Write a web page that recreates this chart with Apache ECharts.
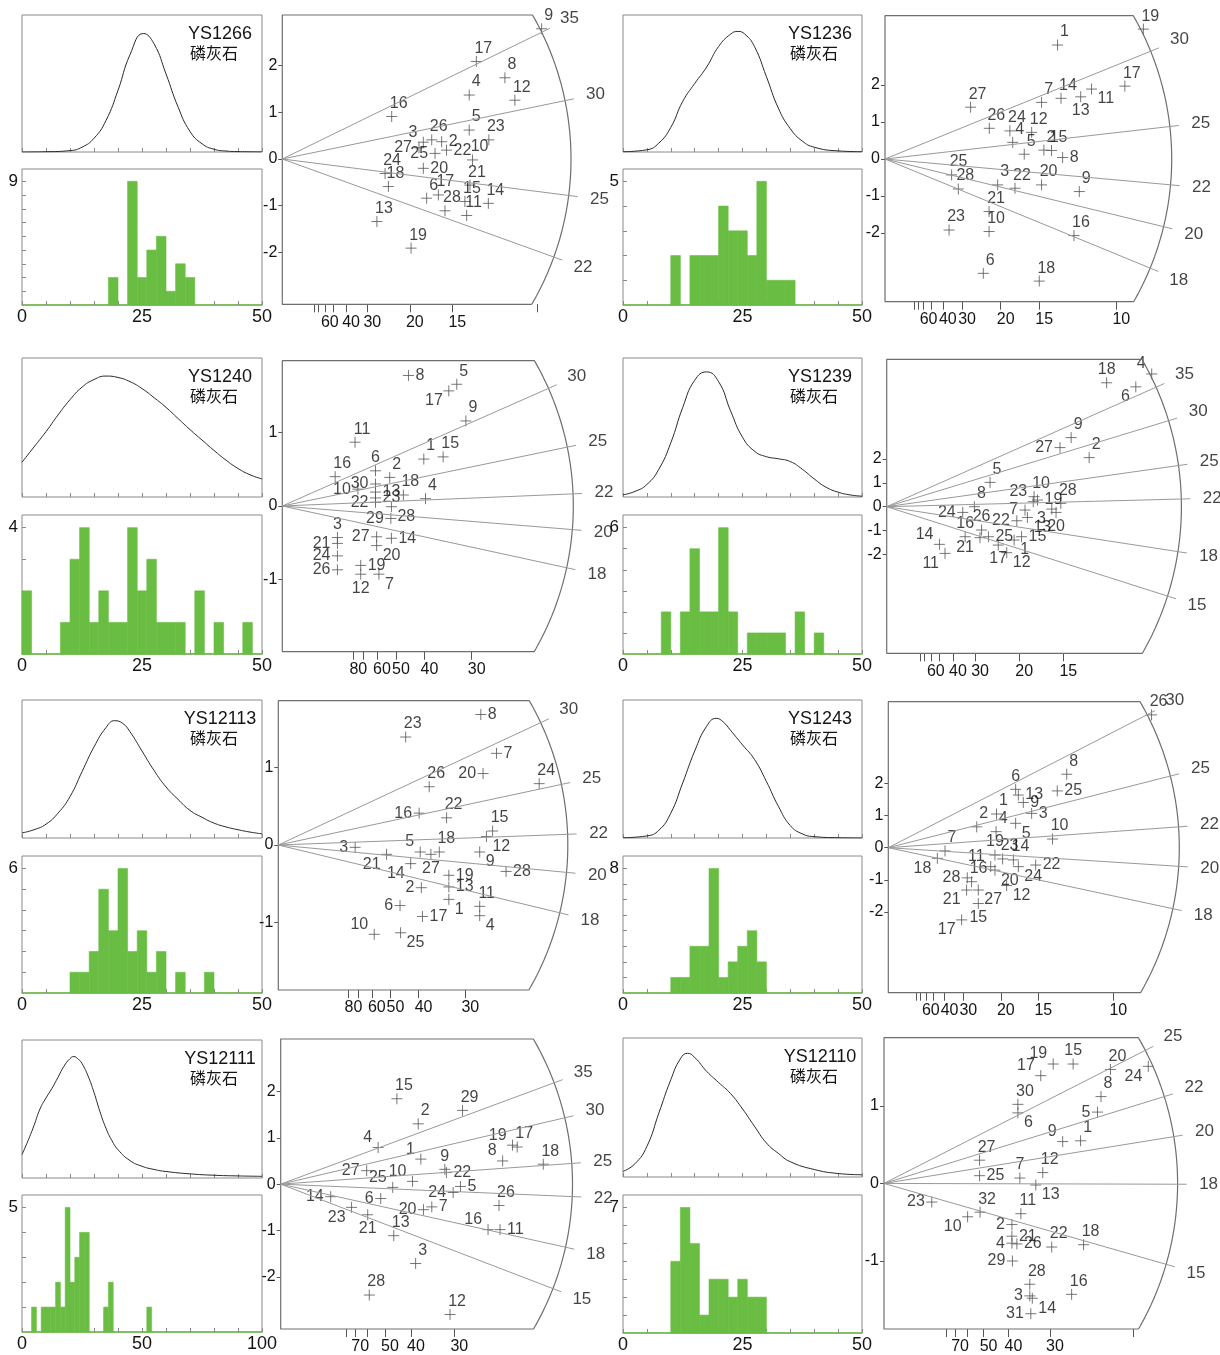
<!DOCTYPE html>
<html><head><meta charset="utf-8">
<script src="https://cdn.jsdelivr.net/npm/echarts@6/dist/echarts.min.js"></script>
<style>html,body{margin:0;padding:0;background:#fff}#c{width:1220px;height:1355px}</style>
</head><body><div id="c"></div>
<script>
// ---------------- DATA ----------------
const titles = ['YS1266','YS1236','YS1240','YS1239','YS12113','YS1243','YS12111','YS12110'];
const mineral = '磷灰石';

// KDE curves: [age (Ma), relative density]
const kde1 = [[0,0],[5,0.002],[10,0.01],[12.5,0.035],[15,0.1],[17.5,0.23],[20,0.45],[22.5,0.71],[25.3,0.865],[27.5,0.79],[30,0.57],[32.5,0.33],[35,0.15],[37.5,0.06],[40,0.02],[42.5,0.007],[45,0.003],[50,0.001]];
const kde2 = [[0,0.002],[5,0.016],[7.5,0.065],[10,0.18],[12.5,0.37],[15,0.5],[17.5,0.62],[20,0.77],[22.5,0.86],[24,0.88],[25.5,0.86],[27.5,0.77],[30,0.55],[32.5,0.32],[35,0.17],[37.5,0.08],[40,0.035],[45,0.008],[50,0.002]];
const kde3 = [[0,0.25],[2.5,0.36],[5,0.47],[7.5,0.59],[10,0.7],[12.5,0.79],[15,0.845],[17.5,0.87],[20,0.86],[22.5,0.83],[25,0.78],[27.5,0.715],[30,0.645],[32.5,0.565],[35,0.485],[37.5,0.41],[40,0.335],[42.5,0.265],[45,0.205],[47.5,0.16],[50,0.13]];
const kde4 = [[0,0.016],[2.5,0.04],[5,0.09],[7.5,0.2],[10,0.39],[12.5,0.645],[15,0.84],[17.5,0.9],[20,0.83],[22.5,0.62],[25,0.43],[27.5,0.33],[30,0.29],[32.5,0.275],[35,0.255],[37.5,0.2],[40,0.13],[42.5,0.07],[45,0.035],[47.5,0.015],[50,0.006]];
const kde5 = [[0,0.037],[2.5,0.06],[5,0.1],[7.5,0.18],[10,0.3],[12.5,0.48],[15,0.66],[17.5,0.8],[19.3,0.85],[21,0.83],[22.5,0.77],[25,0.63],[27.5,0.49],[30,0.37],[32.5,0.28],[35,0.2],[37.5,0.15],[40,0.108],[42.5,0.08],[45,0.06],[47.5,0.043],[50,0.03]];
const kde6 = [[0,0.002],[5,0.015],[7.5,0.056],[10,0.18],[12.5,0.4],[15,0.63],[17.5,0.81],[19.5,0.867],[21,0.84],[22.5,0.78],[25,0.675],[27.5,0.57],[30,0.41],[32.5,0.23],[35,0.09],[37.5,0.03],[40,0.01],[45,0.002],[50,0]];
const kde7 = [[0,0.17],[2.5,0.27],[5,0.38],[7.5,0.5],[10,0.58],[12.5,0.65],[15,0.73],[17.5,0.81],[20,0.865],[21.6,0.88],[23.5,0.86],[25,0.83],[27.5,0.74],[30,0.62],[32.5,0.48],[35,0.36],[37.5,0.27],[40,0.205],[45,0.126],[50,0.085],[55,0.062],[60,0.047],[70,0.03],[80,0.02],[90,0.015],[100,0.012]];
const kde8 = [[0,0.04],[2.5,0.095],[5,0.22],[7.5,0.46],[10,0.7],[12,0.85],[13.5,0.89],[15,0.86],[17.5,0.76],[20,0.68],[22.5,0.6],[25,0.49],[27.5,0.365],[30,0.245],[32.5,0.17],[35,0.11],[40,0.054],[45,0.025],[50,0.016]];

// Histogram counts, bins of 2 Ma starting at 0
const histBin = 2;
const hist1 = [0,0,0,0,0,0,0,0,0,2,0,9,2,4,5,1,3,2];
const hist2 = [0,0,0,0,0,2,0,2,2,2,4,3,3,2,5,1,1,1];
const hist3 = [2,0,0,0,1,3,4,1,2,1,1,4,2,3,1,1,1,0,2,0,1,0,0,1];
const hist4 = [0,0,0,0,2,0,2,5,2,2,6,2,0,1,1,1,1,0,2,0,1];
const hist5 = [0,0,0,0,0,1,1,2,5,3,6,2,3,1,2,0,1,0,0,1];
const hist6 = [0,0,0,0,0,1,1,3,3,8,1,2,3,4,2];
const hist7 = [0,0,1,0,1,1,1,2,1,5,2,3,4,4,0,0,0,1,2,0,0,0,0,0,0,0,1];
const hist8 = [0,0,0,0,0,4,7,5,1,3,3,2,3,2,2];
const histRange = [50,50,50,50,50,50,100,50];

// Radial plot points: [precision (1/sigma), standardised estimate, grain no.]
const pts1 = [[10.17,2.79,'9'],[7.61,2.09,'17'],[8.73,1.74,'8'],[7.33,1.37,'4'],[9.12,1.26,'12'],[4.29,0.91,'16'],[7.33,0.62,'5'],[8.10,0.41,'23'],[5.86,0.41,'26'],[5.53,0.36,'3'],[6.25,0.37,'2'],[5.36,0.24,'27'],[5.99,0.12,'25'],[6.44,0.19,'22'],[5.53,-0.20,'20'],[7.46,-0.02,'10'],[4.03,-0.31,'24'],[4.16,-0.59,'18'],[7.36,-0.56,'21'],[5.66,-0.84,'6'],[6.12,-0.77,'17'],[6.38,-1.11,'28'],[7.16,-0.91,'15'],[7.23,-1.21,'11'],[8.08,-0.95,'14'],[3.71,-1.34,'13'],[5.05,-1.91,'19']];
const pts2 = [[11.17,3.51,'19'],[7.46,3.08,'1'],[10.37,1.97,'17'],[8.93,1.89,'11'],[7.61,1.64,'14'],[8.46,1.68,'13'],[6.77,1.53,'7'],[3.70,1.40,'27'],[4.51,0.83,'26'],[5.40,0.76,'24'],[5.52,0.45,'4'],[6.34,0.72,'12'],[6.02,0.13,'5'],[6.87,0.24,'2'],[7.20,0.23,'15'],[7.68,0.04,'8'],[2.88,-0.43,'25'],[3.17,-0.81,'28'],[4.87,-0.70,'3'],[5.62,-0.79,'22'],[6.77,-0.70,'20'],[8.40,-0.88,'9'],[4.50,-1.42,'21'],[4.50,-1.96,'10'],[2.77,-1.92,'23'],[8.17,-2.07,'16'],[4.25,-3.09,'6'],[6.67,-3.30,'18']];
const pts3 = [[2.22,1.78,'8'],[3.07,1.66,'5'],[2.93,1.57,'17'],[3.23,1.16,'9'],[1.28,0.87,'11'],[2.49,0.64,'1'],[2.83,0.67,'15'],[0.93,0.40,'16'],[1.64,0.48,'6'],[1.89,0.39,'2'],[1.64,0.30,'30'],[1.33,0.23,'10'],[1.64,0.19,'13'],[2.13,0.15,'18'],[2.52,0.10,'4'],[1.64,0.11,'23'],[1.64,0.05,'22'],[1.92,-0.01,'28'],[1.91,-0.17,'29'],[0.97,-0.43,'3'],[0.97,-0.51,'21'],[0.97,-0.68,'24'],[0.97,-0.87,'26'],[1.66,-0.42,'27'],[1.92,-0.44,'14'],[1.66,-0.54,'20'],[1.38,-0.81,'19'],[1.38,-0.93,'12'],[1.70,-0.93,'7']];
const pts4 = [[10.0,5.57,'4'],[8.30,5.20,'18'],[9.40,5.03,'6'],[6.96,2.90,'9'],[6.54,2.48,'27'],[7.64,2.06,'2'],[3.90,1.02,'5'],[3.31,0.0,'8'],[2.87,-0.24,'24'],[5.56,0.42,'10'],[5.53,0.21,'23'],[5.69,0.28,'19'],[6.57,0.14,'28'],[5.22,-0.14,'7'],[6.23,-0.10,'3'],[6.39,-0.24,'20'],[5.31,-0.45,'13'],[4.91,-0.59,'22'],[3.58,-0.98,'26'],[2.96,-1.26,'16'],[3.52,-1.30,'21'],[3.84,-1.26,'25'],[5.09,-1.26,'15'],[4.81,-1.40,'1'],[4.21,-1.61,'17'],[4.53,-1.93,'12'],[1.99,-1.58,'14'],[2.20,-1.96,'11']];
const pts5 = [[3.61,1.68,'8'],[2.27,1.39,'23'],[3.89,1.18,'7'],[3.65,0.92,'20'],[4.65,0.79,'24'],[2.69,0.75,'26'],[2.51,0.41,'16'],[3.00,0.35,'22'],[3.82,0.18,'15'],[3.71,0.11,'12'],[1.37,-0.03,'3'],[2.53,-0.09,'5'],[2.87,-0.09,'18'],[2.72,-0.12,'27'],[1.93,-0.12,'21'],[3.59,-0.09,'9'],[2.36,-0.24,'14'],[4.06,-0.34,'28'],[3.04,-0.39,'19'],[3.04,-0.54,'13'],[2.55,-0.55,'2'],[3.04,-0.70,'1'],[3.59,-0.79,'11'],[3.59,-0.91,'4'],[2.17,-0.78,'6'],[2.57,-0.92,'17'],[1.71,-1.15,'10'],[2.18,-1.13,'25']];
const pts6 = [[11.70,4.14,'26'],[7.93,2.29,'8'],[7.51,1.77,'25'],[5.66,1.82,'6'],[5.78,1.64,'13'],[6.00,1.41,'9'],[4.81,1.05,'1'],[6.37,1.07,'3'],[3.93,0.65,'2'],[4.79,0.50,'4'],[5.66,0.76,'5'],[7.30,0.27,'10'],[2.52,-0.10,'7'],[2.18,-0.33,'18'],[4.74,-0.23,'19'],[5.08,-0.35,'23'],[4.55,-0.59,'11'],[5.56,-0.38,'14'],[6.55,-0.54,'22'],[5.78,-0.59,'24'],[4.74,-0.70,'20'],[3.51,-0.94,'28'],[3.70,-1.06,'16'],[5.26,-1.18,'12'],[3.48,-1.32,'21'],[4.00,-1.32,'27'],[4.00,-1.74,'15'],[3.26,-2.25,'17']];
const pts7 = [[2.23,1.84,'15'],[3.49,1.59,'29'],[2.64,1.30,'2'],[1.87,0.79,'4'],[4.45,0.84,'19'],[4.54,0.80,'17'],[2.69,0.54,'1'],[4.26,0.50,'8'],[5.04,0.43,'18'],[3.15,0.32,'9'],[3.18,0.25,'22'],[1.65,0.29,'27'],[2.53,0.06,'10'],[2.15,-0.07,'25'],[3.45,-0.05,'5'],[3.31,-0.18,'24'],[0.96,-0.27,'14'],[1.92,-0.31,'6'],[4.19,-0.46,'26'],[2.74,-0.55,'20'],[2.90,-0.49,'7'],[1.36,-0.50,'23'],[1.67,-0.66,'21'],[3.98,-0.98,'16'],[4.21,-0.98,'11'],[2.17,-1.11,'13'],[2.59,-1.71,'3'],[1.70,-2.39,'28'],[3.25,-2.81,'12']];
const pts8 = [[3.40,1.54,'19'],[3.80,1.54,'15'],[3.15,1.39,'17'],[4.55,1.47,'20'],[5.31,1.51,'24'],[2.69,1.02,'30'],[2.69,0.91,'6'],[4.36,1.12,'8'],[4.29,0.92,'5'],[3.59,0.54,'9'],[3.95,0.55,'1'],[1.92,0.30,'27'],[1.92,0.10,'25'],[2.73,0.07,'7'],[3.19,0.14,'12'],[3.05,-0.02,'13'],[0.96,-0.24,'23'],[1.93,-0.37,'32'],[1.68,-0.43,'10'],[2.75,-0.39,'11'],[2.57,-0.53,'2'],[2.57,-0.68,'21'],[2.57,-0.77,'4'],[2.67,-0.78,'26'],[3.37,-0.82,'22'],[4.01,-0.79,'18'],[2.58,-1.00,'29'],[2.93,-1.30,'28'],[2.93,-1.45,'3'],[2.98,-1.48,'14'],[3.77,-1.43,'16'],[2.95,-1.68,'31']];

// Radial-scale age ticks (Ma) and central age (Ma)
const ages1 = [35,30,25,22], t01 = 26.8;
const ages2 = [30,25,22,20,18], t02 = 23.28;
const ages3 = [30,25,22,20,18], t03 = 21.3;
const ages4 = [35,30,25,22,18,15], t04 = 21.37;
const ages5 = [30,25,22,20,18], t05 = 21.42;
const ages6 = [30,25,22,20,18], t06 = 20.92;
const ages7 = [35,30,25,22,18,15], t07 = 23.08;
const ages8 = [25,22,20,18,15], t08 = 18.03;

// Relative error (%) ticks and labels on the precision axis
const sigT1 = [80,70,60,50,40,30,20,15,10], sigL1 = [60,40,30,20,15];
const sigT2 = [80,70,60,50,40,30,20,15,10], sigL2 = [60,40,30,20,15,10];
const sigT3 = [80,70,60,50,40,30], sigL3 = [80,60,50,40,30];
const sigT4 = [80,70,60,50,40,30,20,15], sigL4 = [60,40,30,20,15];
const sigT5 = [80,70,60,50,40,30], sigL5 = [80,60,50,40,30];
const sigT6 = [80,70,60,50,40,30,20,15,10], sigL6 = [60,40,30,20,15,10];
const sigT7 = [80,70,60,50,40,30], sigL7 = [70,50,40,30];
const sigT8 = [80,70,60,50,40,30,20], sigL8 = [70,50,40,30];

// standardised-estimate tick labels
const yl1 = [-2,-1,0,1,2], yl2 = [-2,-1,0,1,2], yl3 = [-1,0,1], yl4 = [-2,-1,0,1,2];
const yl5 = [-1,0,1], yl6 = [-2,-1,0,1,2], yl7 = [-2,-1,0,1,2], yl8 = [-1,0,1];

// ---------------- STYLE / LAYOUT ----------------
// label side for grain numbers (default: upper right)
const pos1 = {'27':'l','25':'l','20':'r','22':'r','2':'r','3':'ul'};
const pos2 = {'8':'r','11':'dr','13':'d'};
const pos3 = {'8':'r','17':'dl','6':'u','30':'l','10':'l','13':'r','23':'r','22':'l','28':'dr','29':'l','3':'u','21':'l','24':'l','26':'l','27':'l','14':'r','20':'dr','19':'r','12':'d','7':'dr'};
const pos4 = {'4':'ul','18':'u','6':'dl','27':'l','24':'l','23':'ul','19':'r','7':'l','3':'dl','20':'d','13':'dr','22':'l','26':'u','16':'u','21':'dl','25':'r','15':'r','1':'dr','17':'d','12':'dr','14':'ul','11':'dl'};
const pos5 = {'8':'r','7':'r','20':'l','16':'l','12':'dr','3':'l','5':'ul','27':'d','21':'dl','9':'dr','14':'dl','28':'r','19':'r','13':'r','2':'l','1':'dr','4':'dr','6':'l','17':'r','10':'ul','25':'dr'};
const pos6 = {'25':'r','6':'u','13':'r','9':'r','3':'r','5':'dr','18':'dl','19':'u','11':'ul','22':'r','24':'dr','20':'dr','28':'l','12':'dr','21':'dl','27':'dr','15':'d','17':'dl'};
const pos7 = {'4':'ul','19':'ul','1':'ul','8':'ul','9':'u','22':'r','27':'l','10':'ul','25':'ul','5':'r','24':'l','14':'l','6':'l','20':'l','7':'r','23':'dl','21':'d','16':'ul','11':'r'};
const pos8 = {'19':'ul','15':'u','17':'ul','24':'dl','6':'dr','5':'l','9':'ul','25':'r','7':'u','13':'dr','23':'l','10':'dl','2':'l','21':'r','4':'l','26':'r','29':'l','3':'l','14':'dr','31':'l'};

const LAY = [
 {bx:22, bw:240, kt:15, kh:137, ht:169, hh:136, ox:282.3, oy:159, xs:25.5, ys:46.67, top:15, bot:304.3, r:288.7},
 {bx:623, bw:239, kt:15, kh:137, ht:169, hh:136, ox:885, oy:159, xs:23.13, ys:37, top:15.7, bot:301.7, r:286.7},
 {bx:22, bw:240, kt:358, kh:139, ht:515, hh:139, ox:282.3, oy:506, xs:56.83, ys:73.33, top:360.7, bot:651.7, r:291},
 {bx:623, bw:239, kt:358, kh:139, ht:515, hh:139, ox:886.7, oy:506.7, xs:26.5, ys:23.83, top:359.3, bot:653.3, r:294.7},
 {bx:22, bw:240, kt:700, kh:138, ht:856, hh:137, ox:278.3, oy:845, xs:56.1, ys:77.67, top:700.7, bot:990, r:289.5},
 {bx:623, bw:239, kt:700, kh:138, ht:856, hh:137, ox:888.3, oy:847.7, xs:22.5, ys:32.08, top:701.7, bot:992.7, r:291},
 {bx:22, bw:240, kt:1040, kh:138, ht:1195, hh:137, ox:280.7, oy:1185, xs:52.1, ys:46.67, top:1039, bot:1330.7, r:291.8},
 {bx:623, bw:239, kt:1038, kh:139, ht:1195, hh:138, ox:884, oy:1184.3, xs:49.77, ys:78, top:1037.7, bot:1330.7, r:293.6}
];

const P = [
 {kde:kde1, hist:hist1, pts:pts1, ages:ages1, t0:t01, sigT:sigT1, sigL:sigL1, yl:yl1, pos:pos1},
 {kde:kde2, hist:hist2, pts:pts2, ages:ages2, t0:t02, sigT:sigT2, sigL:sigL2, yl:yl2, pos:pos2},
 {kde:kde3, hist:hist3, pts:pts3, ages:ages3, t0:t03, sigT:sigT3, sigL:sigL3, yl:yl3, pos:pos3},
 {kde:kde4, hist:hist4, pts:pts4, ages:ages4, t0:t04, sigT:sigT4, sigL:sigL4, yl:yl4, pos:pos4},
 {kde:kde5, hist:hist5, pts:pts5, ages:ages5, t0:t05, sigT:sigT5, sigL:sigL5, yl:yl5, pos:pos5},
 {kde:kde6, hist:hist6, pts:pts6, ages:ages6, t0:t06, sigT:sigT6, sigL:sigL6, yl:yl6, pos:pos6},
 {kde:kde7, hist:hist7, pts:pts7, ages:ages7, t0:t07, sigT:sigT7, sigL:sigL7, yl:yl7, pos:pos7},
 {kde:kde8, hist:hist8, pts:pts8, ages:ages8, t0:t08, sigT:sigT8, sigL:sigL8, yl:yl8, pos:pos8}
];

const TXT = '#141414', FRAME = '#8a8a8a', GREEN = '#6abd43';
const FONT = '"Liberation Sans", Arial, sans-serif';

function labelCfg(p){
  switch(p){
    case 'r': return {position:'right', distance:1};
    case 'l': return {position:'left', distance:1};
    case 'u': return {position:'inside', offset:[0,-13]};
    case 'd': return {position:'inside', offset:[0,14]};
    case 'dr': return {position:'right', distance:0, offset:[0,10]};
    case 'dl': return {position:'left', distance:0, offset:[0,10]};
    case 'ul': return {position:'left', distance:0, offset:[0,-10]};
    default: return {position:'inside', offset:[7,-13]};
  }
}

const grids=[], xAxes=[], yAxes=[], series=[], graphic=[];
function range(a,b,s){const o=[];for(let v=a;v<=b+1e-9;v+=s)o.push(v);return o;}

P.forEach((p,i)=>{
  const l = LAY[i];
  const xr = histRange[i], tstep = xr===100?10:5;
  // ---- KDE ----
  let g = grids.length;
  grids.push({left:l.bx, top:l.kt, width:l.bw, height:l.kh, show:true, borderColor:FRAME, borderWidth:1, backgroundColor:'transparent'});
  xAxes.push({gridIndex:g, type:'value', min:0, max:xr, axisLine:{show:false}, splitLine:{show:false},
    axisTick:{show:true, inside:true, length:4, customValues:range(0,xr,tstep), lineStyle:{color:FRAME}}, axisLabel:{show:false}});
  yAxes.push({gridIndex:g, type:'value', min:0, max:1, show:false});
  series.push({type:'line', xAxisIndex:g, yAxisIndex:g, data:p.kde, smooth:0.5, symbol:'none',
    lineStyle:{color:'#2a2a2a', width:1}, silent:true});
  // ---- Histogram ----
  g = grids.length;
  const hmax = Math.max(...p.hist);
  grids.push({left:l.bx, top:l.ht, width:l.bw, height:l.hh, show:true, borderColor:FRAME, borderWidth:1, backgroundColor:'transparent'});
  xAxes.push({gridIndex:g, type:'value', min:0, max:xr, splitLine:{show:false},
    axisLine:{show:true, onZero:true, lineStyle:{color:GREEN, width:1.5}},
    axisTick:{show:true, inside:true, length:4, customValues:range(0,xr,tstep), lineStyle:{color:FRAME}},
    axisLabel:{show:true, customValues:[0,xr/2,xr], fontSize:18, color:TXT, margin:3, fontFamily:FONT}});
  yAxes.push({gridIndex:g, type:'value', min:0, max:hmax*1.1, splitLine:{show:false}, axisLine:{show:false},
    axisTick:{show:true, inside:true, length:4, customValues:range(1,hmax,1), lineStyle:{color:FRAME}},
    axisLabel:{show:true, customValues:[hmax], fontSize:17, color:TXT, margin:4, fontFamily:FONT}});
  const hd = p.hist.map((c,k)=>[k*histBin,(k+1)*histBin,c]).filter(d=>d[2]>0);
  series.push({type:'custom', xAxisIndex:g, yAxisIndex:g, data:hd, encode:{x:[0,1], y:2}, silent:true,
    renderItem:(params, api)=>{
      const a = api.coord([api.value(0),0]), b = api.coord([api.value(1),api.value(2)]);
      return {type:'rect', shape:{x:a[0], y:b[1], width:b[0]-a[0], height:a[1]-b[1]},
        style:{fill:GREEN, stroke:GREEN, lineWidth:0.6}};
    }});
  // ---- Titles ----
  graphic.push({type:'text', x:l.bx+l.bw-42, y:l.kt+19, style:{text:titles[i], font:'18px '+FONT, fill:TXT,
    textAlign:'center', textVerticalAlign:'middle', align:'center', verticalAlign:'middle'}});
  graphic.push({type:'text', x:l.bx+l.bw-48, y:l.kt+38, style:{text:mineral, font:'16px "Noto Sans CJK SC"', fill:TXT,
    textAlign:'center', textVerticalAlign:'middle', align:'center', verticalAlign:'middle'}});
  // ---- Radial plot ----
  g = grids.length;
  const gw = l.r + 14;
  grids.push({left:l.ox, top:l.top, width:gw, height:l.bot-l.top});
  const ymax = (l.oy-l.top)/l.ys, ymin = -(l.bot-l.oy)/l.ys;
  xAxes.push({gridIndex:g, type:'value', min:0, max:gw/l.xs, splitLine:{show:false}, axisLine:{show:false, onZero:false},
    axisTick:{show:true, length:8, customValues:p.sigT.map(s=>100/s), lineStyle:{color:'#555'}},
    axisLabel:{show:true, customValues:p.sigL.map(s=>100/s), formatter:v=>String(Math.round(100/v)),
      fontSize:16, color:TXT, margin:10, padding:[0,0,0,10], fontFamily:FONT}});
  yAxes.push({gridIndex:g, type:'value', min:ymin, max:ymax, splitLine:{show:false}, axisLine:{show:false},
    axisTick:{show:true, length:4, customValues:p.yl, lineStyle:{color:'#555'}},
    axisLabel:{show:true, customValues:p.yl, fontSize:16, color:TXT, margin:5, fontFamily:FONT}});
  const pt = (rad,phi)=>[rad*Math.cos(phi)/l.xs, rad*Math.sin(phi)/l.ys];
  const phiT = Math.asin((l.oy-l.top)/l.r), phiB = -Math.asin((l.bot-l.oy)/l.r);
  const frame = [];
  for(let k=0;k<=90;k++) frame.push(pt(l.r, phiB+(phiT-phiB)*k/90));
  frame.push([0,ymax]); frame.push([0,ymin]); frame.push(frame[0]);
  series.push({type:'line', xAxisIndex:g, yAxisIndex:g, data:frame, symbol:'none', clip:false, silent:true,
    lineStyle:{color:'#6e6e6e', width:1.2}});
  const ageLab = [];
  p.ages.forEach(t=>{
    const th = Math.atan(Math.log(t/p.t0)*l.ys/l.xs);
    series.push({type:'line', xAxisIndex:g, yAxisIndex:g, data:[[0,0], pt(l.r+9, th)], symbol:'none', clip:false, silent:true,
      lineStyle:{color:'#999', width:1}});
    const q = pt(l.r+31, th);
    ageLab.push({value:q, name:String(t)});
  });
  series.push({type:'scatter', xAxisIndex:g, yAxisIndex:g, data:ageLab, symbolSize:1, clip:false, silent:true,
    itemStyle:{color:'rgba(0,0,0,0)'},
    label:{show:true, position:'inside', formatter:'{b}', fontSize:17, color:TXT, fontFamily:FONT}});
  series.push({type:'scatter', xAxisIndex:g, yAxisIndex:g, clip:false, silent:true,
    symbol:'path://M5,0L5,10M0,5L10,5', symbolSize:11,
    itemStyle:{color:'rgba(0,0,0,0)', borderColor:'#555', borderWidth:1},
    label:{show:true, formatter:'{b}', fontSize:16, color:TXT, fontFamily:FONT},
    data:p.pts.map(d=>Object.assign({value:[d[0],d[1]], name:d[2]}, {label:labelCfg(p.pos[d[2]])}))});
});

const chart = echarts.init(document.getElementById('c'), null, {renderer:'canvas'});
chart.setOption({
  animation:false, backgroundColor:'#fff', textStyle:{fontFamily:FONT},
  grid:grids, xAxis:xAxes, yAxis:yAxes, series:series, graphic:graphic
});
</script>
</body></html>
